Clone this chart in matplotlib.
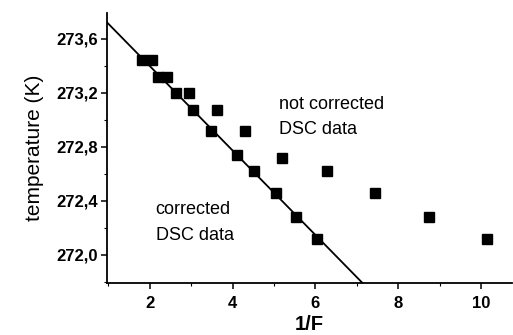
import matplotlib
matplotlib.use("Agg")
import matplotlib.pyplot as plt
import numpy as np
from matplotlib.ticker import MultipleLocator, FuncFormatter

# corrected DSC data (on the fit line)
corr_x = [1.8, 2.04, 2.2, 2.42, 2.62, 3.04, 3.48, 4.1, 4.52, 5.04, 5.54, 6.04]
corr_y = [273.44, 273.44, 273.32, 273.32, 273.20, 273.07, 272.92, 272.74, 272.62, 272.46, 272.28, 272.12]

# not corrected DSC data
nc_x = [2.94, 3.62, 4.31, 5.2, 6.28, 7.43, 8.74, 10.15]
nc_y = [273.20, 273.07, 272.92, 272.72, 272.62, 272.46, 272.28, 272.12]

# linear fit of corrected data: T = a + b * (1/F)
fit_a = 274.0227
fit_b = -0.3127

xticks = [2, 4, 6, 8, 10]
yticks = [272.0, 272.4, 272.8, 273.2, 273.6]

fig = plt.figure(figsize=(5.13, 3.35), dpi=100)
ax = fig.add_axes([0.209, 0.155, 0.789, 0.806])

xl = (0.97, 10.75)
yl = (271.79, 273.79)
xx = np.linspace(xl[0], xl[1], 200)
ax.plot(xx, fit_a + fit_b * xx, color="black", lw=1.3, zorder=2)
ax.plot(corr_x, corr_y, "s", color="black", ms=7.2, zorder=3)
ax.plot(nc_x, nc_y, "s", color="black", ms=7.2, zorder=3)

ax.set_xlim(*xl)
ax.set_ylim(*yl)
ax.set_xticks(xticks)
ax.set_yticks(yticks)
ax.xaxis.set_minor_locator(MultipleLocator(1))
ax.yaxis.set_minor_locator(MultipleLocator(0.2))
ax.yaxis.set_major_formatter(FuncFormatter(lambda v, p: f"{v:.1f}".replace(".", ",")))
ax.xaxis.set_major_formatter(FuncFormatter(lambda v, p: f"{v:.0f}"))

for s in ["top", "right"]:
    ax.spines[s].set_visible(False)
for s in ["left", "bottom"]:
    ax.spines[s].set_linewidth(1.3)

ax.tick_params(which="major", direction="out", length=4, width=1.1, labelsize=12, pad=2.5)
ax.tick_params(axis="x", which="major", pad=5)
ax.tick_params(which="minor", direction="out", length=2, width=0.8)
for lab in ax.get_xticklabels() + ax.get_yticklabels():
    lab.set_fontfamily("Liberation Sans")
    lab.set_fontweight("bold")

ax.set_xlabel("1/F", fontsize=14.5, fontweight="bold", family="Liberation Sans", labelpad=3)
ax.set_ylabel("temperature (K)", fontsize=15, family="Liberation Sans", labelpad=9)

ax.text(5.11, 273.02, "not corrected\nDSC data", fontsize=13, family="Liberation Sans",
        ha="left", va="center", linespacing=1.65)
ax.text(2.14, 272.24, "corrected\nDSC data", fontsize=13, family="Liberation Sans",
        ha="left", va="center", linespacing=1.65)

fig.savefig("out.png", dpi=100)
